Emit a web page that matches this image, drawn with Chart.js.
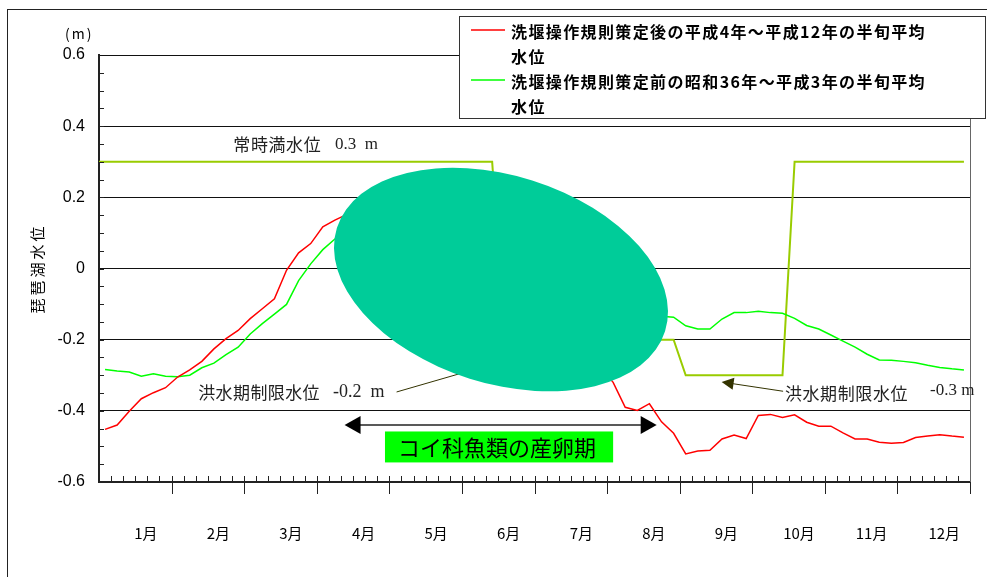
<!DOCTYPE html>
<html lang="ja">
<head>
<meta charset="utf-8">
<title>琵琶湖水位</title>
<script src="https://cdn.jsdelivr.net/npm/chart.js@4.4.1/dist/chart.umd.min.js"></script>
<style>
    html, body { margin: 0; padding: 0; background: #fff; }
    #wrap { width: 987px; height: 577px; }
</style>
</head>
<body>
<div id="wrap"><canvas id="levelChart" width="987" height="577"></canvas></div>
<script>
// 半旬 (5-day) averages, 72 per year
const halfMonthCount = 72;

const monthLabels = ['1月', '2月', '3月', '4月', '5月', '6月', '7月', '8月', '9月', '10月', '11月', '12月'];
const yTicks = [0.6, 0.4, 0.2, 0, -0.2, -0.4, -0.6];

const legendLabels = [
    ['洗堰操作規則策定後の平成4年～平成12年の半旬平均', '水位'],
    ['洗堰操作規則策定前の昭和36年～平成3年の半旬平均', '水位']
];

// 平成4年～平成12年
const afterRuleLevels = [
    -0.452, -0.440, -0.401, -0.366, -0.349, -0.335,
    -0.305, -0.285, -0.261, -0.226, -0.197, -0.174,
    -0.141, -0.113, -0.085, -0.005, 0.044, 0.070,
    0.117, 0.136, 0.152, 0.168, 0.178, 0.175,
    0.160, 0.150, 0.140, 0.130, 0.120, 0.100,
    0.070, 0.030, -0.020, -0.070, -0.120, -0.160,
    -0.190, -0.210, -0.220, -0.240, -0.260, -0.280,
    -0.320, -0.390, -0.399, -0.380, -0.431, -0.463,
    -0.521, -0.513, -0.511, -0.479, -0.468, -0.478,
    -0.413, -0.410, -0.419, -0.411, -0.432, -0.443,
    -0.443, -0.462, -0.479, -0.479, -0.488, -0.491,
    -0.489, -0.475, -0.471, -0.467, -0.471, -0.474
];

// 昭和36年～平成3年
const beforeRuleLevels = [
    -0.284, -0.288, -0.291, -0.303, -0.296, -0.303,
    -0.304, -0.300, -0.279, -0.266, -0.242, -0.221,
    -0.184, -0.155, -0.128, -0.101, -0.034, 0.013,
    0.053, 0.083, 0.110, 0.130, 0.150, 0.160,
    0.170, 0.170, 0.160, 0.150, 0.140, 0.130,
    0.110, 0.090, 0.060, 0.030, 0.000, -0.030,
    -0.050, -0.070, -0.080, -0.090, -0.100, -0.110,
    -0.120, -0.120, -0.125, -0.130, -0.134, -0.137,
    -0.161, -0.170, -0.170, -0.142, -0.124, -0.124,
    -0.120, -0.124, -0.126, -0.140, -0.160, -0.170,
    -0.187, -0.204, -0.221, -0.241, -0.257, -0.258,
    -0.261, -0.265, -0.272, -0.278, -0.282, -0.285
];

// 常時満水位 / 洪水期制限水位
const ruleX = [0, 32.5, 33.5, 47.5, 48.5, 56.5, 57.5, 71.5];
const ruleLevels = [0.3, 0.3, -0.2, -0.2, -0.3, -0.3, 0.3, 0.3];

const CJK = "'Noto Sans CJK JP', 'Noto Sans CJK SC', sans-serif";
const SERIF = "'Liberation Serif', 'DejaVu Serif', serif";

function arrowHead(ctx, tipX, tipY, fromX, fromY, len, half) {
    const a = Math.atan2(tipY - fromY, tipX - fromX);
    const bx = tipX - len * Math.cos(a);
    const by = tipY - len * Math.sin(a);
    ctx.beginPath();
    ctx.moveTo(tipX, tipY);
    ctx.lineTo(bx + half * Math.sin(a), by - half * Math.cos(a));
    ctx.lineTo(bx - half * Math.sin(a), by + half * Math.cos(a));
    ctx.closePath();
    ctx.fill();
}

function drawText(ctx, text, x, y, font, spacing) {
    ctx.font = font;
    ctx.letterSpacing = (spacing || 0) + 'px';
    ctx.fillText(text, x, y);
    ctx.letterSpacing = '0px';
}

const overlayPlugin = {
    id: 'overlay',
    afterDatasetsDraw(chart) {
        const ctx = chart.ctx;
        const area = chart.chartArea;
        const x = v => chart.scales.x.getPixelForValue(v);
        const y = v => chart.scales.y.getPixelForValue(v);

        ctx.save();

        // small tick marks
        ctx.strokeStyle = '#222';
        ctx.lineWidth = 1;
        ctx.beginPath();
        for (let i = 1; i <= halfMonthCount; i++) {
            const px = Math.round(x(i)) + 0.5;
            ctx.moveTo(px, area.bottom);
            ctx.lineTo(px, area.bottom - 6);
            if (i % 6 === 0) {
                ctx.moveTo(px, area.bottom);
                ctx.lineTo(px, area.bottom + 12);
            }
        }
        for (let v = -0.55; v < 0.59; v += 0.05) {
            const py = Math.round(y(v)) + 0.5;
            ctx.moveTo(area.left, py);
            ctx.lineTo(area.left + 5, py);
        }
        ctx.stroke();

        // right border
        ctx.strokeStyle = '#666';
        ctx.beginPath();
        ctx.moveTo(Math.round(area.right) + 0.5, area.top);
        ctx.lineTo(Math.round(area.right) + 0.5, area.bottom);
        ctx.stroke();

        // callout from left label (goes under the blob)
        ctx.strokeStyle = '#333300';
        ctx.lineWidth = 1;
        ctx.beginPath();
        ctx.moveTo(x(24.6), y(-0.347));
        ctx.lineTo(x(30.7), y(-0.287));
        ctx.stroke();

        // blob
        const cx = x(33.23), cy = y(-0.031);
        const rx = x(33.23 + 14.22) - cx;
        const ry = y(-0.031) - y(-0.031 + 0.292);
        ctx.fillStyle = '#00cc99';
        ctx.beginPath();
        ctx.ellipse(cx, cy, rx, ry, 17.5 * Math.PI / 180, 0, Math.PI * 2);
        ctx.fill();

        // arrow from right label
        const ax0 = x(56.55), ay0 = y(-0.345);
        const ax1 = x(51.47), ay1 = y(-0.319);
        ctx.strokeStyle = '#333300';
        ctx.fillStyle = '#333300';
        ctx.beginPath();
        ctx.moveTo(ax0, ay0);
        ctx.lineTo(ax1 + 8, ay1 + 1.2);
        ctx.stroke();
        arrowHead(ctx, ax1, ay1, ax0, ay0, 12, 6);

        // spawning period double arrow
        const sy = y(-0.44);
        const sx0 = x(20.3), sx1 = x(46.1);
        ctx.strokeStyle = '#222';
        ctx.fillStyle = '#000';
        ctx.lineWidth = 1.5;
        ctx.beginPath();
        ctx.moveTo(sx0 + 10, sy);
        ctx.lineTo(sx1 - 10, sy);
        ctx.stroke();
        arrowHead(ctx, sx0, sy, sx1, sy, 16, 9);
        arrowHead(ctx, sx1, sy, sx0, sy, 16, 9);

        // spawning label box
        const bx0 = x(23.64), bx1 = x(42.5);
        const by0 = y(-0.458), by1 = y(-0.545);
        ctx.fillStyle = '#00ff00';
        ctx.fillRect(bx0, by0, bx1 - bx0, by1 - by0);
        ctx.fillStyle = '#000';
        ctx.textAlign = 'center';
        ctx.textBaseline = 'middle';
        drawText(ctx, 'コイ科魚類の産卵期', (bx0 + bx1) / 2 - 2, (by0 + by1) / 2 + 1, '22px ' + CJK, 0);

        // level labels
        ctx.textAlign = 'left';
        ctx.fillStyle = '#222';
        drawText(ctx, '常時満水位', x(11.1), y(0.348), '17px ' + CJK, 0.6);
        drawText(ctx, '0.3  m', x(19.5), y(0.348), '17px ' + SERIF, 0);
        drawText(ctx, '洪水期制限水位', x(8.2), y(-0.348), '17px ' + CJK, 0.4);
        drawText(ctx, '-0.2  m', x(19.35), y(-0.348), '18px ' + SERIF, 0);
        drawText(ctx, '洪水期制限水位', x(56.7), y(-0.351), '17px ' + CJK, 0.6);
        drawText(ctx, '-0.3 m', x(68.7), y(-0.343), '17px ' + SERIF, 0);

        ctx.restore();
    },
    afterDraw(chart) {
        const ctx = chart.ctx;
        const area = chart.chartArea;
        ctx.save();

        // axis unit and title
        ctx.fillStyle = '#000';
        ctx.textAlign = 'left';
        ctx.textBaseline = 'middle';
        drawText(ctx, '(m)', 65, 34, '14px ' + CJK, 2);
        ctx.save();
        ctx.translate(37, (area.top + area.bottom) / 2);
        ctx.rotate(-Math.PI / 2);
        ctx.textAlign = 'center';
        drawText(ctx, '琵琶湖水位', 0, 0, '15px ' + CJK, 3);
        ctx.restore();

        // legend
        const lx = 459.5, ly = 16.5, lw = 526, lh = 102;
        ctx.fillStyle = '#fff';
        ctx.fillRect(lx, ly, lw, lh);
        ctx.strokeStyle = '#333';
        ctx.lineWidth = 1;
        ctx.strokeRect(lx, ly, lw, lh);
        legendLabels.forEach((lines, i) => {
            const rowY = 31.5 + i * 50;
            ctx.strokeStyle = chart.data.datasets[i].borderColor;
            ctx.lineWidth = 1.5;
            ctx.beginPath();
            ctx.moveTo(471, rowY - 1.5);
            ctx.lineTo(505, rowY - 1.5);
            ctx.stroke();
            ctx.fillStyle = '#000';
            ctx.font = 'bold 16px ' + CJK;
            const w = ctx.measureText(lines[0]).width;
            const spacing = Math.max(0, (415 - w) / lines[0].length);
            lines.forEach((line, j) => {
                drawText(ctx, line, 511, rowY + j * 25, 'bold 16px ' + CJK, spacing);
            });
        });

        // outer frame
        ctx.strokeStyle = '#222';
        ctx.lineWidth = 1;
        ctx.strokeRect(7.5, 9.5, 990, 580);

        ctx.restore();
    }
};

function buildChart() {
    const toPoints = levels => levels.map((v, i) => ({ x: i + 0.5, y: v }));
    const ctx = document.getElementById('levelChart').getContext('2d');

    return new Chart(ctx, {
        type: 'line',
        data: {
            datasets: [
                {
                    label: legendLabels[0].join(''),
                    data: toPoints(afterRuleLevels),
                    borderColor: '#ff0000',
                    borderWidth: 1.5
                },
                {
                    label: legendLabels[1].join(''),
                    data: toPoints(beforeRuleLevels),
                    borderColor: '#00ff00',
                    borderWidth: 1.5
                },
                {
                    label: '常時満水位・洪水期制限水位',
                    data: ruleX.map((v, i) => ({ x: v, y: ruleLevels[i] })),
                    borderColor: '#99cc00',
                    borderWidth: 2
                }
            ]
        },
        options: {
            responsive: false,
            animation: false,
            devicePixelRatio: 1,
            layout: { padding: { top: 55, right: 17, left: 0, bottom: 0 } },
            elements: {
                point: { radius: 0 },
                line: { tension: 0 }
            },
            plugins: {
                legend: { display: false },
                tooltip: { enabled: false }
            },
            scales: {
                x: {
                    type: 'linear',
                    min: 0,
                    max: halfMonthCount,
                    grid: { display: false, drawTicks: false },
                    border: { display: true, color: '#222', width: 2 },
                    afterBuildTicks: scale => {
                        scale.ticks = monthLabels.map((m, i) => ({ value: i * 6 + 3 }));
                    },
                    afterFit: scale => {
                        scale.height = 95;
                        scale.paddingLeft = 0;
                        scale.paddingRight = 0;
                    },
                    ticks: {
                        autoSkip: false,
                        maxRotation: 0,
                        padding: 42,
                        labelOffset: 10.5,
                        color: '#000',
                        font: { family: CJK, size: 15 },
                        callback: (value, index) => monthLabels[index]
                    }
                },
                y: {
                    type: 'linear',
                    min: -0.6,
                    max: 0.6,
                    grid: { color: '#111', lineWidth: 1, drawTicks: false },
                    border: { display: true, color: '#222', width: 2 },
                    afterBuildTicks: scale => {
                        scale.ticks = yTicks.map(v => ({ value: v }));
                    },
                    afterFit: scale => {
                        scale.width = 99;
                        scale.paddingTop = 0;
                        scale.paddingBottom = 0;
                    },
                    ticks: {
                        padding: 14,
                        color: '#000',
                        font: { family: "'Liberation Sans', Arial, sans-serif", size: 16 },
                        callback: value => (value === 0 ? '0' : value.toFixed(1))
                    }
                }
            }
        },
        plugins: [overlayPlugin]
    });
}

document.addEventListener('DOMContentLoaded', () => {
    buildChart();
});
</script>
</body>
</html>
